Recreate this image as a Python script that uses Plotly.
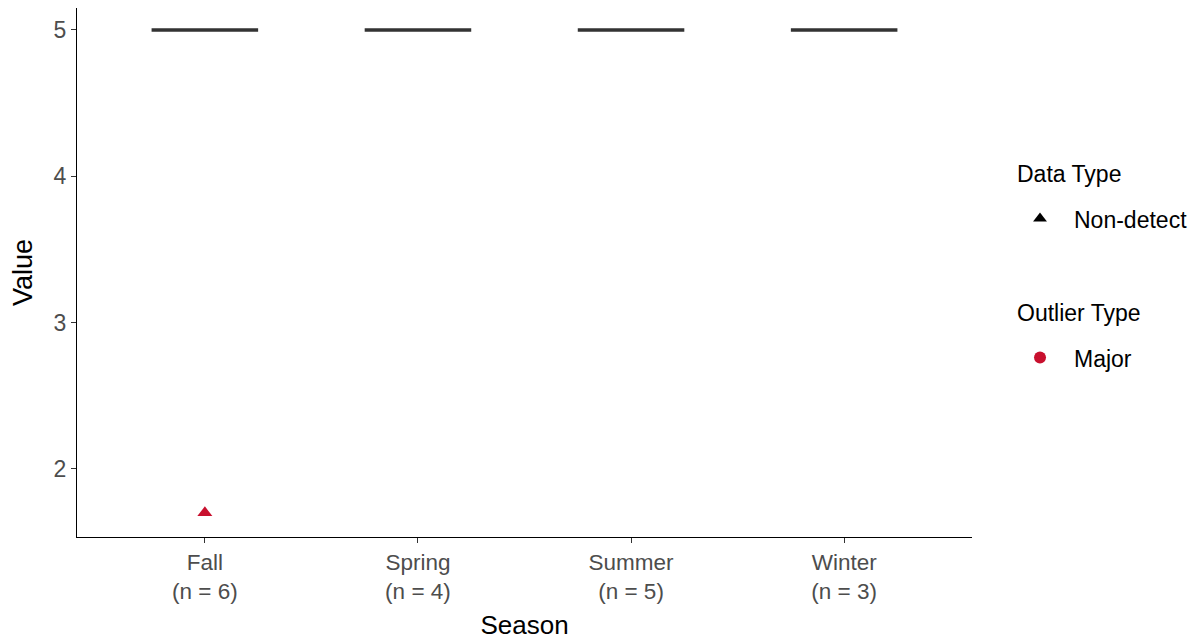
import plotly.graph_objects as go

seasons = ["Fall", "Spring", "Summer", "Winter"]
n_counts = [6, 4, 5, 3]
q1 = [5, 5, 5, 5]
medians = [5, 5, 5, 5]
q3 = [5, 5, 5, 5]
lower = [5, 5, 5, 5]
upper = [5, 5, 5, 5]

outlier_season = ["Fall"]
outlier_value = [1.7]

legend_titles = ["Data Type", "Outlier Type"]
legend_items = ["Non-detect", "Major"]

tick_labels = [f"{s}<br>(n = {n})" for s, n in zip(seasons, n_counts)]
RED = "#C8102E"
FONT = "Liberation Sans, Arial, sans-serif"

fig = go.Figure()
fig.add_trace(go.Box(
    x=seasons, q1=q1, median=medians, q3=q3,
    lowerfence=lower, upperfence=upper,
    width=0.5, fillcolor="white",
    line=dict(color="#333333", width=3.5),
    boxpoints=False, showlegend=False, hoverinfo="skip",
))
fig.add_trace(go.Scatter(
    x=outlier_season, y=outlier_value, mode="markers",
    marker=dict(symbol="triangle-up", size=13, color=RED),
    showlegend=False,
))
# legend entries
fig.add_trace(go.Scatter(
    x=[None], y=[None], mode="markers", name=legend_items[0],
    marker=dict(symbol="triangle-up", size=12, color="black"),
    legendgroup="dt",
))
fig.add_trace(go.Scatter(
    x=[None], y=[None], mode="markers", name=legend_items[1],
    marker=dict(symbol="circle", size=12, color=RED),
    legendgroup="ot",
))

for title, ypos in zip(legend_titles, [0.6862, 0.4234]):
    fig.add_annotation(
        text=title, xref="paper", yref="paper", x=1.0481, y=ypos,
        xanchor="left", yanchor="middle", showarrow=False,
        font=dict(size=23, color="black", family=FONT),
    )

fig.update_layout(
    width=1199, height=641,
    margin=dict(l=69, r=235, t=0, b=112),
    plot_bgcolor="white", paper_bgcolor="white",
    font=dict(family=FONT, size=23, color="black"),
    legend=dict(x=1.038, y=0.6424, xanchor="left", yanchor="top",
                font=dict(size=23, color="black"),
                tracegroupgap=106, itemwidth=58, itemsizing="constant"),
    xaxis=dict(
        type="category", categoryorder="array", categoryarray=seasons,
        range=[-0.6, 3.6], tickmode="array", tickvals=seasons, ticktext=tick_labels,
        showline=True, linecolor="black", linewidth=1,
        ticks="outside", ticklen=5, tickcolor="#333333",
        tickfont=dict(size=22.5, color="#4d4d4d"),
        title=dict(text="Season", font=dict(size=26, color="black"), standoff=12),
        showgrid=False, zeroline=False, automargin=False,
    ),
    yaxis=dict(
        range=[1.535, 5.150], tickvals=[2, 3, 4, 5],
        showline=True, linecolor="black", linewidth=1,
        ticks="outside", ticklen=5, tickcolor="#333333",
        tickfont=dict(size=23, color="#4d4d4d"),
        title=dict(text="Value", font=dict(size=27, color="black"), standoff=18),
        showgrid=False, zeroline=False, automargin=False,
    ),
)

fig.write_html("out.html")
